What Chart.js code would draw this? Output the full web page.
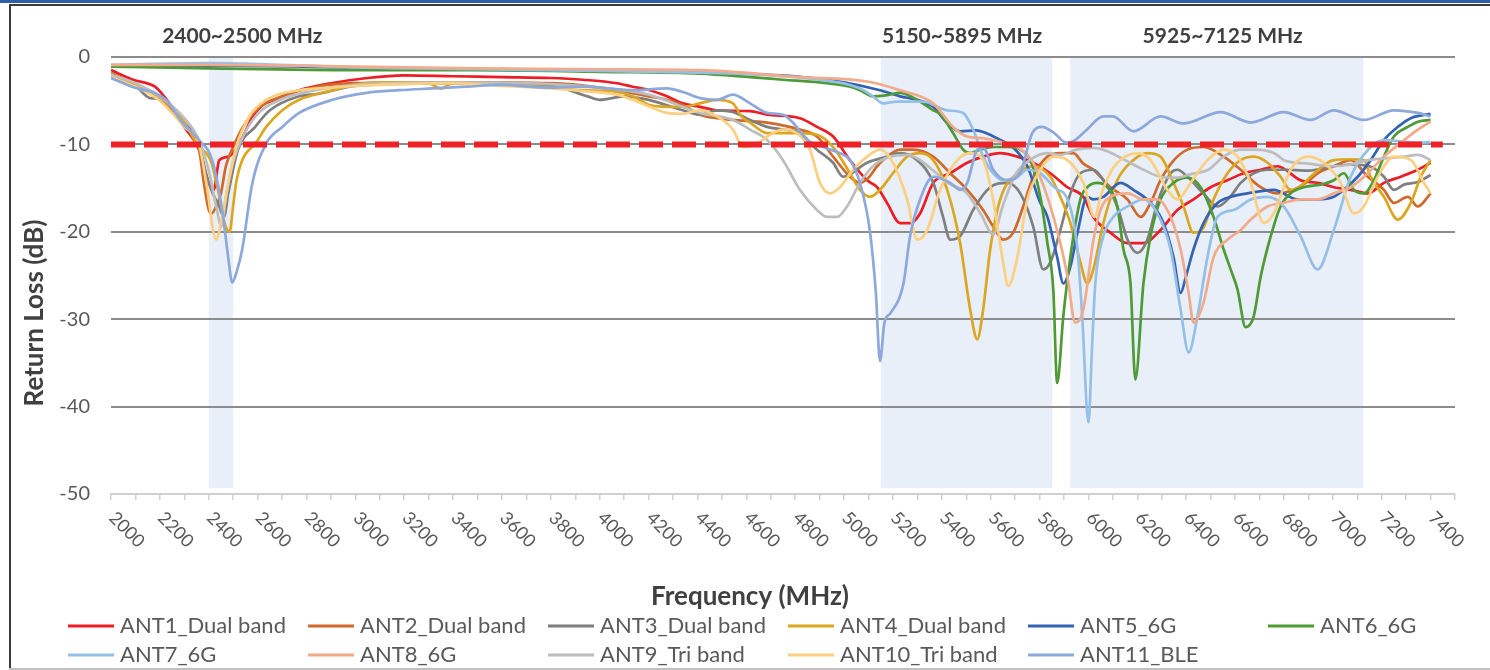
<!DOCTYPE html>
<html><head><meta charset="utf-8">
<script src="https://cdn.jsdelivr.net/npm/chart.js@4.4.1/dist/chart.umd.min.js"></script>
<style>html,body{margin:0;padding:0;background:#fff;}canvas{display:block;}</style>
</head><body><canvas id="c" width="1490" height="670"></canvas>
<script>
// ---------- data (frequency MHz, return loss dB) ----------
const seriesNames = ['ANT1_Dual band','ANT2_Dual band','ANT3_Dual band','ANT4_Dual band','ANT5_6G','ANT6_6G','ANT7_6G','ANT8_6G','ANT9_Tri band','ANT10_Tri band','ANT11_BLE'];
const ANT1 = [[2000,-1.5],[2090,-2.6],[2180,-3.4],[2220,-4.6],[2260,-6.2],[2300,-8],[2360,-10.6],[2400,-14.4],[2420,-15.2],[2443,-11.8],[2480,-11.4],[2510,-10.6],[2540,-9.1],[2580,-6.8],[2620,-5.5],[2670,-4.9],[2770,-3.8],[2900,-3.0],[3050,-2.4],[3200,-2.1],[3400,-2.2],[3600,-2.3],[3800,-2.4],[3930,-2.6],[4070,-3.0],[4135,-3.4],[4205,-3.8],[4275,-4.5],[4340,-5.3],[4410,-5.7],[4480,-6.1],[4615,-6.2],[4685,-6.6],[4819,-7.0],[4889,-8.0],[4955,-9.1],[5024,-11.8],[5094,-14.1],[5135,-14.9],[5176,-16.7],[5229,-19],[5270,-19],[5311,-17.9],[5365,-14.4],[5434,-13.3],[5504,-12.1],[5569,-11.4],[5639,-11],[5709,-11.4],[5774,-12.1],[5844,-13.3],[5914,-14.9],[5979,-16],[6020,-18.3],[6090,-20.1],[6160,-21.3],[6225,-21.3],[6295,-19.8],[6364,-17.5],[6430,-16.3],[6500,-14.9],[6569,-14.1],[6635,-13.3],[6705,-12.9],[6774,-12.5],[6868,-14.1],[6938,-14.4],[7004,-14.9],[7073,-15.2],[7143,-15.6],[7209,-14.4],[7278,-13.7],[7348,-12.9],[7400,-12.1]];
const ANT2 = [[2000,-1.8],[2100,-3.2],[2200,-4.8],[2300,-7.8],[2360,-10.5],[2380,-14.4],[2400,-17.5],[2412,-17.9],[2430,-17.1],[2450,-15.6],[2470,-12.5],[2500,-10.3],[2540,-8],[2610,-5.7],[2700,-4.5],[2840,-3.4],[3000,-3.0],[3400,-2.9],[3800,-3.0],[4000,-3.5],[4200,-4.5],[4275,-4.9],[4340,-5.5],[4410,-6.6],[4480,-7.0],[4545,-7.2],[4685,-7.5],[4819,-8.3],[4889,-9.1],[4955,-11.4],[5024,-13.7],[5065,-14.4],[5100,-13.8],[5135,-12.5],[5176,-11.4],[5229,-10.6],[5282,-10.6],[5365,-11.4],[5434,-13.3],[5504,-15.2],[5569,-17.5],[5610,-19.4],[5651,-20.9],[5692,-20.1],[5733,-17.1],[5774,-13.7],[5832,-11.4],[5885,-11],[5938,-11],[5979,-12.2],[6020,-12.9],[6090,-14.9],[6160,-16.3],[6213,-18.3],[6254,-16.7],[6295,-14.1],[6350,-11.8],[6405,-10.6],[6471,-10.3],[6553,-11.4],[6623,-12.9],[6705,-14.9],[6770,-15.6],[6830,-15.3],[6900,-14.2],[6938,-13.3],[7004,-12.5],[7073,-11.8],[7143,-13.7],[7209,-15.2],[7250,-16.7],[7307,-16],[7348,-17.1],[7389,-16],[7400,-15.6]];
const ANT3 = [[2000,-2.2],[2100,-3.3],[2160,-4.7],[2200,-4.8],[2300,-7.5],[2360,-10],[2389,-13.3],[2410,-15.2],[2443,-17.1],[2462,-18.3],[2480,-15.6],[2520,-10.6],[2590,-8],[2650,-6.1],[2770,-4.5],[2850,-4.2],[3000,-3.3],[3400,-3.0],[3600,-3.2],[3800,-3.3],[3950,-4.5],[4000,-4.9],[4100,-4.5],[4200,-4.9],[4340,-6.1],[4410,-6.6],[4480,-6.1],[4545,-6.3],[4615,-7.2],[4685,-8.0],[4750,-8.3],[4819,-8.7],[4889,-10.6],[4955,-12.1],[4996,-13.7],[5094,-12.1],[5176,-11.4],[5229,-11],[5299,-11.8],[5365,-14.4],[5405,-18.3],[5434,-20.9],[5475,-20.5],[5528,-17.5],[5598,-14.9],[5668,-14.4],[5721,-15.6],[5774,-19.4],[5815,-24.3],[5844,-23.5],[5885,-19.8],[5926,-15.6],[5967,-13.3],[6020,-12.9],[6061,-14.1],[6118,-17.1],[6160,-20.9],[6200,-22.4],[6241,-20.9],[6282,-16.7],[6336,-13.3],[6364,-12.9],[6405,-13.7],[6470,-15.6],[6528,-17.1],[6580,-16],[6623,-14.4],[6676,-13.3],[6733,-12.9],[6800,-12.9],[6900,-13],[7000,-12.5],[7073,-12.3],[7150,-12.5],[7209,-13.7],[7250,-15.2],[7291,-14.6],[7348,-14.3],[7400,-13.5]];
const ANT4 = [[2000,-2.0],[2100,-3.2],[2200,-4.6],[2300,-7.5],[2360,-10.3],[2390,-11],[2410,-12],[2440,-15.5],[2465,-19],[2485,-20],[2500,-17],[2512,-14.4],[2537,-11.8],[2594,-9.8],[2635,-8],[2701,-6.1],[2770,-4.9],[2906,-3.8],[3045,-3.0],[3200,-2.9],[3300,-3.0],[3350,-3.6],[3400,-3.0],[3600,-3.2],[3800,-3.5],[3930,-3.8],[4070,-4.0],[4135,-4.5],[4205,-5.5],[4275,-5.7],[4340,-5.7],[4410,-5.3],[4480,-4.9],[4545,-5.3],[4580,-6.8],[4615,-7.5],[4685,-8.7],[4819,-8.7],[4890,-8.9],[4955,-10.3],[5024,-13.3],[5065,-15.2],[5106,-16],[5147,-15.2],[5200,-13.3],[5258,-11.4],[5311,-11],[5365,-11.8],[5422,-15.2],[5475,-21.3],[5516,-28.9],[5545,-32.3],[5569,-28.9],[5598,-22],[5639,-16.3],[5709,-13.3],[5774,-12.5],[5844,-13.7],[5885,-16],[5926,-19],[5967,-23.5],[5995,-25.9],[6020,-24.3],[6061,-19],[6118,-14.1],[6184,-11.8],[6241,-11],[6295,-11.4],[6348,-14.4],[6389,-17.1],[6430,-20.1],[6471,-19.5],[6512,-16.3],[6569,-13.3],[6623,-11.8],[6676,-11.4],[6733,-12.1],[6786,-13.7],[6827,-15.2],[6868,-14.8],[6909,-13.7],[7004,-11.8],[7073,-11.7],[7127,-11.8],[7155,-13.7],[7209,-16],[7266,-18.6],[7319,-16.7],[7360,-13.7],[7400,-11.8]];
const ANT5 = [[2000,-1.0],[2400,-1.0],[3000,-1.2],[3500,-1.4],[4000,-1.6],[4410,-1.8],[4800,-2.2],[5000,-2.9],[5147,-3.8],[5229,-4.5],[5311,-5.0],[5365,-5.7],[5420,-7.5],[5475,-8.5],[5540,-8.4],[5590,-8.8],[5640,-9.5],[5690,-10.3],[5750,-12.5],[5800,-16.5],[5832,-18.3],[5872,-22.9],[5897,-25.9],[5926,-24],[5955,-20.1],[5995,-16],[6020,-16.3],[6061,-16],[6131,-14.4],[6184,-15.2],[6254,-16.7],[6307,-19],[6348,-22.9],[6377,-27],[6400,-25],[6430,-22],[6471,-19],[6528,-16.7],[6582,-16],[6651,-15.6],[6758,-15.2],[6856,-16.3],[6938,-16.3],[7004,-16],[7045,-15.2],[7102,-13.7],[7155,-11.8],[7209,-9.5],[7266,-8],[7319,-7],[7400,-6.5]];
const ANT6 = [[2000,-1.1],[2400,-1.3],[3000,-1.5],[3500,-1.5],[4000,-1.7],[4410,-1.9],[4615,-2.3],[4750,-2.6],[4900,-2.9],[5024,-3.4],[5065,-3.8],[5118,-4.5],[5170,-4.4],[5229,-4.1],[5299,-4.9],[5365,-6.1],[5393,-6.5],[5446,-8.7],[5487,-10.6],[5516,-11],[5557,-10.6],[5610,-10.3],[5668,-10.3],[5721,-10.6],[5762,-11.8],[5803,-16],[5832,-21.3],[5856,-26.6],[5872,-37.3],[5897,-29.7],[5926,-22.9],[5967,-16.3],[5995,-14.9],[6036,-14.4],[6078,-14.9],[6118,-17.1],[6143,-22],[6172,-25.9],[6192,-36.9],[6225,-25.9],[6254,-20.5],[6295,-16.3],[6348,-14.4],[6405,-13.8],[6459,-14.9],[6512,-18.3],[6553,-22],[6582,-24.3],[6610,-26.6],[6643,-30.9],[6676,-29.7],[6705,-25.1],[6746,-20.5],[6786,-17.1],[6827,-15.6],[6881,-14.9],[6950,-14.6],[7004,-14.1],[7045,-13.3],[7086,-15.2],[7127,-15.6],[7168,-14.1],[7209,-11.4],[7250,-9.1],[7307,-8],[7348,-7.4],[7400,-7.2]];
const ANT7 = [[2000,-0.9],[2400,-0.7],[2600,-0.8],[3000,-1.2],[3500,-1.4],[4000,-1.6],[4410,-1.8],[4700,-2.1],[4900,-2.6],[5024,-3.2],[5080,-3.8],[5118,-4.5],[5160,-5.3],[5217,-5.1],[5323,-5.1],[5422,-6.1],[5487,-6.4],[5528,-8.3],[5569,-11.4],[5610,-13.3],[5651,-14.1],[5709,-13.7],[5750,-12.9],[5803,-13.3],[5864,-15],[5914,-16.3],[5955,-22],[5975,-30],[6000,-41.8],[6015,-33],[6028,-25.9],[6061,-20.5],[6102,-18.3],[6160,-17.1],[6225,-16.3],[6282,-17.9],[6336,-22],[6377,-28.9],[6410,-33.8],[6446,-29.7],[6487,-22.9],[6528,-18.3],[6594,-17.5],[6664,-16.3],[6733,-16],[6799,-17.1],[6868,-20.5],[6938,-24.3],[7004,-19.8],[7073,-13.7],[7155,-10.3],[7209,-9.5],[7300,-9.7],[7360,-9.8],[7400,-9.7]];
const ANT8 = [[2000,-0.9],[2400,-0.9],[3000,-1.1],[3500,-1.3],[4000,-1.4],[4410,-1.5],[4819,-2.3],[5094,-2.8],[5229,-3.8],[5365,-5.3],[5446,-8],[5504,-9.1],[5569,-9.3],[5639,-9.7],[5709,-10.3],[5774,-12.1],[5832,-16],[5885,-21.3],[5914,-25.1],[5946,-30.4],[5979,-28.9],[6020,-21],[6049,-17.5],[6090,-16],[6160,-15.6],[6225,-16.3],[6282,-16.3],[6336,-18.3],[6377,-22],[6410,-27],[6430,-30.4],[6471,-28.1],[6512,-22.9],[6569,-20.9],[6623,-19.8],[6664,-18.6],[6733,-17.1],[6799,-16.7],[6868,-16.3],[6938,-16.3],[7004,-15.6],[7073,-14.9],[7143,-13.3],[7209,-11.4],[7278,-9.8],[7348,-8.3],[7400,-7.4]];
const ANT9 = [[2000,-2.0],[2100,-3.0],[2200,-4.5],[2300,-7],[2360,-9.5],[2400,-13],[2430,-17],[2452,-19.4],[2470,-16],[2500,-12],[2540,-9.1],[2600,-6.5],[2700,-4.8],[2800,-4],[3000,-3.2],[3400,-2.9],[3800,-3.1],[4000,-3.5],[4200,-4.3],[4410,-6.4],[4545,-7.2],[4615,-8.3],[4685,-9.5],[4750,-11.8],[4819,-15.2],[4889,-17.5],[4930,-18.3],[4971,-18.3],[5012,-17.1],[5065,-14.4],[5118,-12.5],[5188,-11.4],[5260,-11.2],[5311,-11.8],[5365,-13],[5430,-14.5],[5500,-15.5],[5560,-18],[5610,-20.3],[5650,-17],[5700,-13.5],[5760,-11.8],[5830,-11],[5885,-11.2],[5950,-10.6],[6020,-10.4],[6080,-10.8],[6150,-11.8],[6225,-12.9],[6295,-13.7],[6360,-13.8],[6420,-13.4],[6490,-12.9],[6553,-11.4],[6620,-10.6],[6680,-10.6],[6760,-11],[6800,-11.8],[6900,-12.2],[7004,-12.5],[7073,-12.3],[7143,-11.8],[7210,-11.6],[7290,-11.4],[7350,-11.2],[7400,-11.8]];
const ANT10 = [[2000,-2.3],[2100,-3.4],[2200,-5.0],[2300,-8],[2360,-10],[2390,-14.4],[2430,-20.9],[2455,-18.3],[2485,-13.7],[2512,-10.3],[2566,-6.8],[2635,-4.9],[2770,-3.8],[2900,-3.5],[3100,-3.2],[3400,-3.0],[3600,-3.3],[3800,-3.6],[3930,-3.9],[4070,-4.3],[4135,-4.9],[4205,-5.7],[4275,-6.4],[4340,-6.5],[4410,-6.1],[4480,-6.8],[4545,-8.3],[4586,-10.3],[4640,-10],[4685,-9.1],[4750,-8.3],[4800,-8.6],[4860,-10.6],[4901,-14.4],[4942,-15.6],[4983,-14.9],[5037,-12.9],[5094,-11.4],[5147,-10.6],[5200,-12.1],[5258,-16.3],[5299,-20.9],[5340,-19.8],[5393,-15.2],[5463,-11.8],[5516,-11],[5569,-11.8],[5610,-16.3],[5651,-23.5],[5672,-26.2],[5709,-22.9],[5750,-16.3],[5803,-12.9],[5856,-11.4],[5914,-11.8],[5979,-14.4],[6025,-18.3],[6049,-16],[6085,-13.5],[6118,-12.1],[6200,-11],[6254,-11.8],[6323,-15.2],[6364,-16.3],[6418,-14.4],[6487,-11.8],[6553,-10.6],[6610,-11.4],[6664,-14.4],[6717,-19],[6758,-17.9],[6827,-12.9],[6897,-11.4],[6963,-12.1],[7032,-14.4],[7086,-17.9],[7127,-17.1],[7184,-13.7],[7250,-11.4],[7320,-11.8],[7373,-14.4],[7400,-15.6]];
const ANT11 = [[2000,-2.4],[2086,-3.4],[2225,-4.9],[2291,-7.5],[2360,-9.5],[2414,-11.8],[2455,-17.5],[2480,-23],[2496,-25.8],[2515,-24.5],[2537,-22],[2578,-14.5],[2635,-9.9],[2701,-8],[2770,-6.4],[2906,-4.9],[3045,-4.1],[3180,-3.8],[3316,-3.6],[3455,-3.4],[3590,-3.2],[3800,-3.5],[3930,-3.4],[4135,-3.8],[4275,-3.6],[4340,-4],[4410,-4.7],[4480,-4.9],[4545,-4.3],[4615,-5.3],[4685,-6.4],[4750,-6.6],[4790,-7.5],[4850,-9.5],[4913,-10.3],[4983,-11],[5024,-11.8],[5065,-14.4],[5106,-20],[5130,-27],[5147,-34.8],[5165,-30.4],[5190,-29.3],[5243,-25.9],[5270,-20.5],[5311,-16.3],[5365,-13.7],[5434,-14.4],[5475,-15.2],[5504,-14.4],[5545,-10.6],[5570,-10.4],[5610,-12.9],[5665,-14.1],[5720,-13.3],[5770,-8.7],[5810,-8],[5860,-8.7],[5910,-9.8],[5940,-9.6],[5990,-8.4],[6061,-6.8],[6100,-6.8],[6184,-8.5],[6295,-6.8],[6389,-7.6],[6541,-6.3],[6664,-7.5],[6799,-6.3],[6909,-7.2],[7004,-6.1],[7127,-7.2],[7250,-6.1],[7348,-6.4],[7400,-6.8]];
const seriesData = [ANT1, ANT2, ANT3, ANT4, ANT5, ANT6, ANT7, ANT8, ANT9, ANT10, ANT11];
const seriesColors = ['#EE1C24','#D0692A','#7F7F7F','#DCA620','#3563B4','#4E9A35','#95BFE6','#F2AA8A','#BDBDBD','#FDCF80','#8DA8DB'];
const thresholdFreq = [2000, 7450];
const thresholdLevel = [-10, -10];
const xTickLabels = [2000,2200,2400,2600,2800,3000,3200,3400,3600,3800,4000,4200,4400,4600,4800,5000,5200,5400,5600,5800,6000,6200,6400,6600,6800,7000,7200,7400];
const yTickValues = [0,-10,-20,-30,-40,-50];
const xTitle = 'Frequency (MHz)';
const yTitle = 'Return Loss (dB)';
const bandLabels = ['2400~2500 MHz','5150~5895 MHz','5925~7125 MHz'];
const bandLabelFreq = [2537, 5483, 6549];
const bandStart = [2400, 5150, 5925];
const bandEnd = [2500, 5852, 7125];
const bandBottom = -49.3;

// ---------- chart ----------
const FONT = 'Lato, "Noto Sans", sans-serif';
const datasets = seriesData.map((arr, i) => ({
  label: seriesNames[i],
  data: arr.map(p => ({x: p[0], y: p[1]})),
  borderColor: seriesColors[i],
  backgroundColor: seriesColors[i],
  borderWidth: 2.7,
  pointRadius: 0,
  cubicInterpolationMode: 'monotone',
  fill: false,
  order: -i
}));
datasets.push({
  label: '-10 dB',
  data: thresholdFreq.map((f, i) => ({x: f, y: thresholdLevel[i]})),
  borderColor: '#EE2226',
  borderWidth: 6,
  borderDash: [24, 9],
  pointRadius: 0,
  fill: false,
  order: -100
});

const decor = {
  id: 'decor',
  beforeDraw(chart) {
    const {ctx, scales: {x, y}} = chart;
    const W = chart.width, H = chart.height;
    ctx.save();
    ctx.fillStyle = '#ffffff'; ctx.fillRect(0, 0, W, H);
    ctx.fillStyle = '#2F5FA7'; ctx.fillRect(0, 0, W, 3);
    ctx.fillStyle = '#3C3C3C'; ctx.fillRect(9, 4, W - 9, 2); ctx.fillRect(9, 4, 2, H - 4);
    ctx.fillStyle = '#BFBFBF'; ctx.fillRect(9, H - 2, W - 9, 2);
    ctx.fillStyle = '#E8EFF9';
    const yt = y.getPixelForValue(0), yb = y.getPixelForValue(bandBottom);
    for (let i = 0; i < bandStart.length; i++) {
      const x0 = x.getPixelForValue(bandStart[i]), x1 = x.getPixelForValue(bandEnd[i]);
      ctx.fillRect(x0, yt, x1 - x0, yb - yt);
    }
    ctx.restore();
  },
  afterDraw(chart) {
    const {ctx, chartArea: a, scales: {x, y}} = chart;
    ctx.save();
    // rotated x tick labels
    ctx.fillStyle = '#595959';
    ctx.font = '18px ' + FONT;
    ctx.textAlign = 'left'; ctx.textBaseline = 'middle';
    xTickLabels.forEach(v => {
      const px = x.getPixelForValue(v);
      ctx.save();
      ctx.translate(px + 1, a.bottom + 21);
      ctx.rotate(Math.PI / 4);
      ctx.fillText(String(v), 0, 0);
      ctx.restore();
    });
    // axis titles
    ctx.fillStyle = '#404040';
    ctx.font = 'bold 26px ' + FONT;
    ctx.textAlign = 'center'; ctx.textBaseline = 'middle';
    ctx.fillText(xTitle, 750, 597);
    ctx.save();
    ctx.translate(35, 313);
    ctx.rotate(-Math.PI / 2);
    ctx.fillText(yTitle, 0, 0);
    ctx.restore();
    // band labels
    ctx.font = 'bold 21px ' + FONT;
    bandLabels.forEach((t, i) => ctx.fillText(t, x.getPixelForValue(bandLabelFreq[i]), a.top - 21));
    // legend
    ctx.font = '22px ' + FONT;
    ctx.textAlign = 'left'; ctx.textBaseline = 'middle';
    seriesNames.forEach((n, i) => {
      const col = i % 6, row = Math.floor(i / 6);
      const lx = 68 + col * 240, ly = 626 + row * 29;
      ctx.strokeStyle = seriesColors[i]; ctx.lineWidth = 3;
      ctx.beginPath(); ctx.moveTo(lx, ly); ctx.lineTo(lx + 46, ly); ctx.stroke();
      ctx.fillStyle = '#595959';
      ctx.fillText(n, lx + 52, ly);
    });
    ctx.restore();
  }
};

new Chart(document.getElementById('c'), {
  type: 'line',
  data: { datasets },
  options: {
    responsive: false,
    devicePixelRatio: 1,
    animation: false,
    layout: { padding: { left: 0, top: 57, right: 35, bottom: 0 } },
    plugins: { legend: { display: false }, tooltip: { enabled: false } },
    scales: {
      x: {
        type: 'linear', min: 2000, max: 7500,
        afterFit(s) { s.height = 176; },
        ticks: { display: false, stepSize: 100 },
        grid: { drawOnChartArea: false, drawTicks: true, tickLength: 6, color: '#D0D0D0', lineWidth: 1.5 },
        border: { display: true, color: '#D0D0D0', width: 2 },
        title: { display: false }
      },
      y: {
        min: -50, max: 0,
        afterFit(s) { s.width = 111; },
        afterBuildTicks(s) { s.ticks = yTickValues.map(v => ({value: v})); },
        ticks: { color: '#595959', font: { family: FONT, size: 20 }, padding: 21 },
        grid: { drawTicks: false, lineWidth: 2, color: c => (c.tick && c.tick.value === -50) ? 'rgba(0,0,0,0)' : '#8C8C8C' },
        border: { display: false },
        title: { display: false }
      }
    }
  },
  plugins: [decor]
});
</script></body></html>
